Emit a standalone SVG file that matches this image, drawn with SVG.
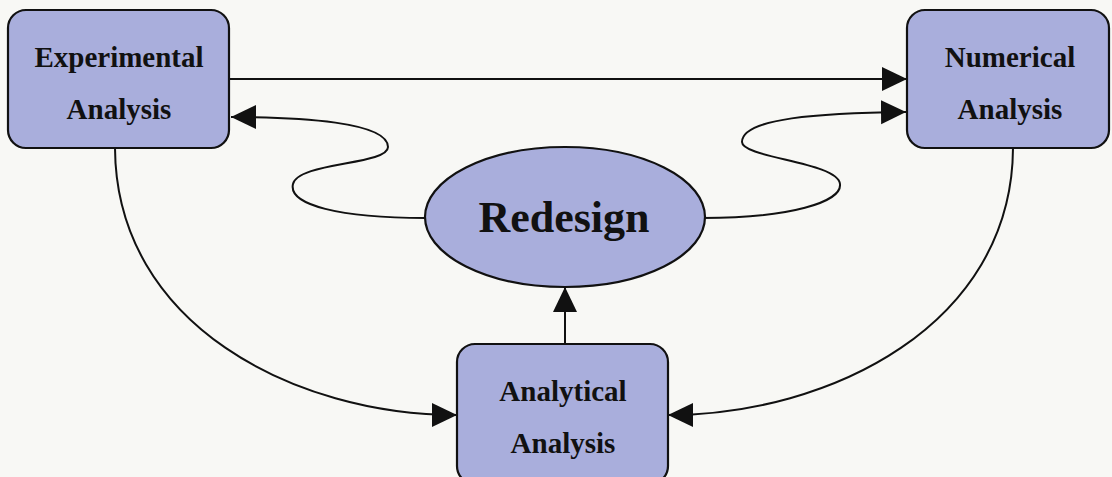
<svg xmlns="http://www.w3.org/2000/svg" width="1112" height="477" viewBox="0 0 1112 477">
  <defs>
    <style>
      .node { fill: #a9aedc; stroke: #111; stroke-width: 2.2; }
      .lbl { font-family: "Liberation Serif", "Times New Roman", serif; font-weight: bold; font-size: 29px; fill: #111; text-anchor: middle; }
      .big { font-size: 44px; }
      .edge { fill: none; stroke: #111; stroke-width: 2; }
    </style>
    <marker id="arr" markerUnits="userSpaceOnUse" markerWidth="26" markerHeight="26" refX="25" refY="12" orient="auto" viewBox="0 0 26 26">
      <path d="M0,0 L25,12 L0,24 Z" fill="#111"/>
    </marker>
  </defs>
  <rect width="1112" height="477" fill="#f8f8f5"/>
  <g id="connectors">
    <path class="edge" d="M229,79 L907,79" marker-end="url(#arr)"/>
    <path class="edge" d="M425,218 C 340,218 288,205 293,184 C 298,162 388,165 388,147 C 388,122 300,117 231,117" marker-end="url(#arr)"/>
    <path class="edge" d="M703,218 C 790,218 842,202 840,184 C 838,162 742,158 742,142 C 742,118 820,113 906,112" marker-end="url(#arr)"/>
    <path class="edge" d="M115,148 C 116,325 295,415 457,415" marker-end="url(#arr)"/>
    <path class="edge" d="M1013,148 C 1012,325 830,415 668,415" marker-end="url(#arr)"/>
    <path class="edge" d="M565,344 L565,287" marker-end="url(#arr)"/>
  </g>
  <g id="experimental">
    <rect class="node" x="8" y="10" width="221" height="138" rx="18"/>
    <text class="lbl" x="119" y="67">Experimental</text>
    <text class="lbl" x="119" y="119">Analysis</text>
  </g>
  <g id="numerical">
    <rect class="node" x="907" y="10" width="202" height="138" rx="18"/>
    <text class="lbl" x="1010" y="67">Numerical</text>
    <text class="lbl" x="1010" y="119">Analysis</text>
  </g>
  <g id="redesign">
    <ellipse class="node" cx="565" cy="217" rx="140" ry="70"/>
    <text class="lbl big" x="564" y="232">Redesign</text>
  </g>
  <g id="analytical">
    <rect class="node" x="457" y="344" width="211" height="140" rx="18"/>
    <text class="lbl" x="563" y="401">Analytical</text>
    <text class="lbl" x="563" y="453">Analysis</text>
  </g>
</svg>
